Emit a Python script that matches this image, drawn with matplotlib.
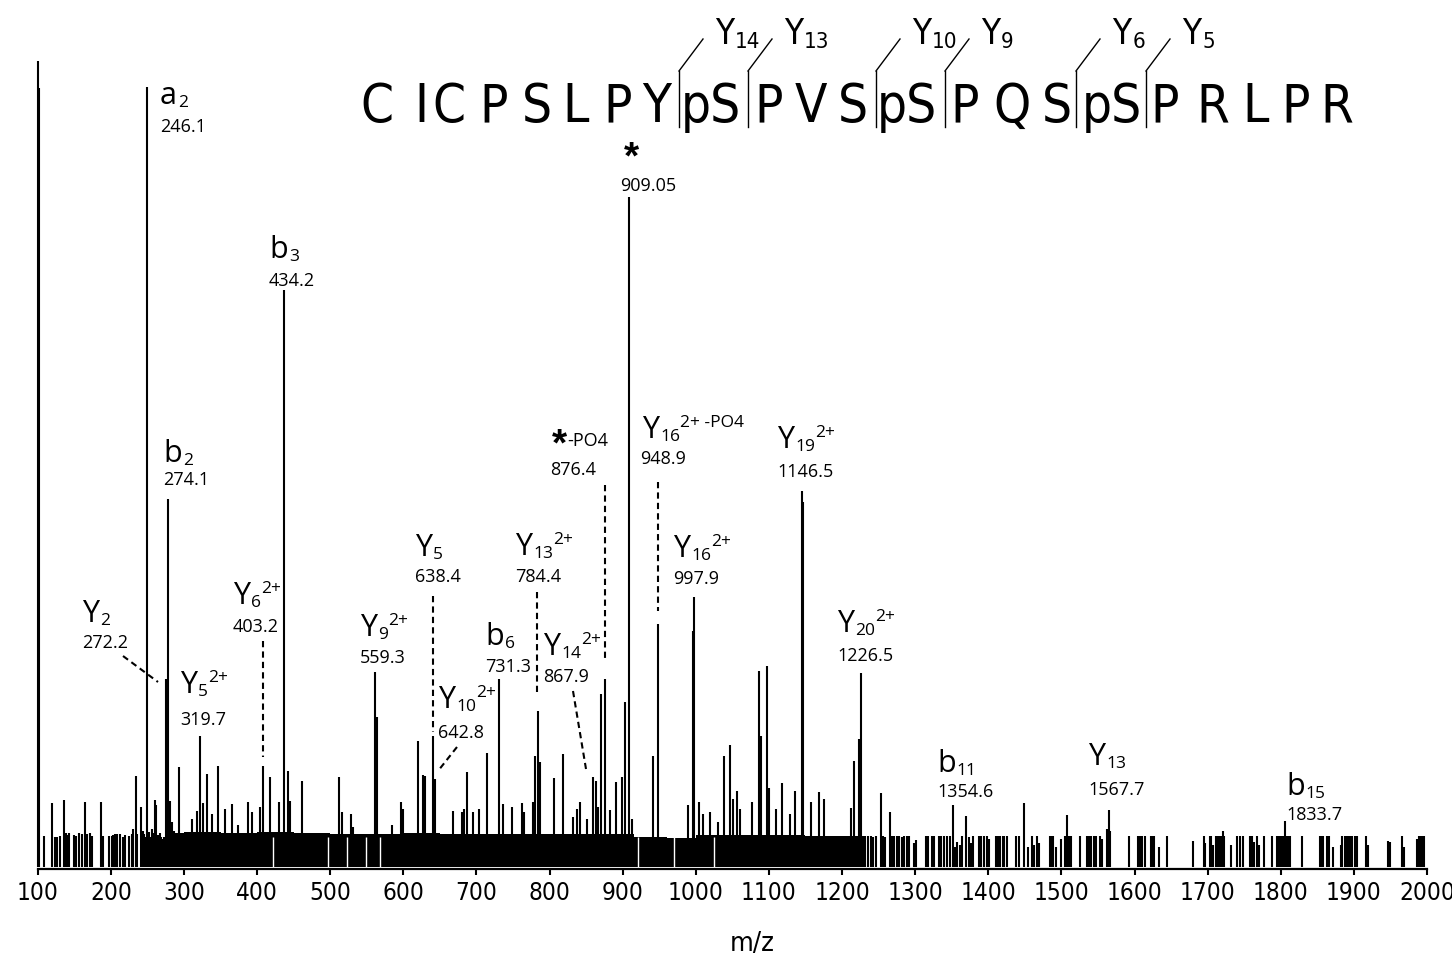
import numpy as np
import matplotlib
matplotlib.use("Agg")
import matplotlib.pyplot as plt
from matplotlib import font_manager as fm

# ---------------- data (m/z, intensity in arbitrary units) ----------------
major_mz = [100.0, 102.0, 249.5, 275.1, 277.8, 436.5, 909.3]
major_h = [806, 779, 780, 188, 368, 577, 670]

band_mz = [287, 300, 350, 400, 450, 500, 550, 600, 650, 700, 750, 800, 850, 900,
           915, 960, 1000, 1050, 1100, 1150, 1200, 1231]
band_h = [34, 35, 34, 35, 34, 33, 33, 34, 33, 33, 33, 33, 33, 33,
          30, 29, 32, 32, 32, 31, 31, 31]

gap_mz = [422, 497, 523, 549, 568, 921, 970, 1025]

minor_mz = [293.7, 310.7, 317.5, 322, 325.7, 331.2, 338.4, 347.1, 356.2, 365.4, 374, 388.1,
            392.8, 404.1, 408.6, 417.8, 430.5, 442.8, 445.6, 461.2, 512.6, 515.9, 528.6,
            531.7, 561.4, 563.8, 584.3, 596.6, 599.3, 619.8, 627.5, 629.8, 640.4, 643.5,
            667.7, 680, 683.6, 686.9, 695.9, 704.1, 714.2, 731.5, 737, 748.4, 762.1, 765.3,
            777.2, 780.3, 784.8, 787.1, 806.7, 818.2, 832.7, 837.4, 841.9, 851, 859.2, 863.8,
            866.9, 870.2, 876.1, 882.9, 891.1, 898.9, 903.4, 913, 940.8, 948.2, 990, 996,
            997.8, 1005, 1009.7, 1018.8, 1029.7, 1038.9, 1047.1, 1050.8, 1056.2, 1059.8,
            1076.8, 1086.7, 1089, 1097.3, 1100, 1110, 1117.8, 1128.2, 1136, 1144.6, 1147.3,
            1157.9, 1167.9, 1175.7, 1212.2, 1215.7, 1223.5, 1225.9, 1253.2, 1265, 1351.7,
            1370, 1449.3, 1507.7, 1564.6, 1805.4]
minor_h = [100, 48, 56, 131, 64, 93, 53, 101, 58, 63, 42, 65,
           55, 60, 101, 90, 65, 96, 66, 86, 90, 55, 53,
           40, 195, 150, 42, 65, 58, 126, 92, 91, 131, 88,
           56, 55, 58, 95, 55, 58, 114, 188, 63, 60, 64, 55,
           65, 111, 156, 105, 89, 113, 50, 58, 65, 48, 90, 86,
           60, 173, 188, 57, 85, 90, 165, 48, 111, 243, 62, 236,
           270, 65, 53, 55, 45, 111, 122, 68, 76, 58,
           65, 196, 131, 201, 79, 58, 84, 53, 76, 376, 365,
           65, 75, 68, 59, 106, 128, 194, 74, 55, 62,
           51, 64, 52, 57, 46]

left_mz = [109, 119, 124, 126, 130, 136, 139, 141, 143, 150, 153, 157, 160, 165, 168, 171,
           174, 187, 189, 198, 201, 203, 206, 209, 213, 216, 219, 225, 229, 231, 234, 236,
           241, 244, 246, 248, 252, 254, 256, 258, 260, 262, 265, 267, 268, 271, 273, 278,
           281, 283, 286]
left_h = [31, 64, 30, 30, 31, 67, 34, 32, 34, 32, 31, 34, 33, 65, 33, 34,
          31, 65, 31, 31, 31, 32, 33, 33, 33, 30, 32, 31, 33, 38, 91, 33,
          60, 36, 33, 30, 35, 30, 38, 34, 67, 62, 32, 34, 30, 28, 30, 32,
          66, 45, 36]

right_mz = [1232, 1235, 1239, 1242, 1246, 1256, 1259, 1268, 1271, 1275, 1278, 1282, 1285,
            1289, 1292, 1298, 1301, 1315, 1318, 1323, 1326, 1332, 1335, 1339, 1344, 1347,
            1355, 1357, 1361, 1364, 1374, 1376, 1379, 1387, 1390, 1394, 1398, 1401, 1410,
            1413, 1416, 1420, 1422, 1425, 1438, 1442, 1455, 1460, 1462, 1467, 1470, 1484,
            1486, 1489, 1492, 1499, 1505, 1510, 1513, 1525, 1535, 1538, 1541, 1544, 1548,
            1553, 1556, 1563, 1567, 1592, 1605, 1607, 1610, 1615, 1622, 1624, 1627, 1633,
            1645, 1680, 1695, 1697, 1703, 1705, 1707, 1712, 1714, 1715, 1717, 1719, 1721,
            1722, 1732, 1740, 1744, 1748, 1758, 1761, 1764, 1767, 1770, 1777, 1788, 1795,
            1798, 1801, 1803, 1808, 1810, 1812, 1829, 1853, 1856, 1858, 1863, 1866, 1871,
            1882, 1884, 1888, 1891, 1893, 1895, 1898, 1901, 1903, 1904, 1917, 1919, 1946,
            1949, 1966, 1968, 1986, 1989, 1991, 1993, 1996]
right_h = [31, 31, 31, 30, 31, 31, 30, 31, 31, 31, 31, 30, 31,
           31, 31, 24, 27, 31, 31, 31, 31, 31, 31, 31, 31, 31,
           20, 25, 22, 31, 30, 24, 31, 31, 31, 31, 31, 28, 31,
           31, 31, 31, 31, 31, 31, 31, 20, 31, 22, 31, 24, 31,
           31, 31, 20, 28, 31, 31, 31, 31, 31, 31, 31, 31, 31,
           31, 28, 38, 36, 31, 31, 31, 31, 31, 31, 31, 31, 20,
           31, 26, 31, 24, 31, 31, 22, 31, 31, 31, 31, 31, 36,
           31, 22, 31, 31, 31, 31, 31, 25, 31, 22, 31, 31, 31,
           31, 31, 31, 31, 31, 31, 31, 31, 31, 31, 31, 31, 20,
           22, 31, 31, 31, 31, 31, 31, 31, 31, 31, 31, 22, 26,
           25, 31, 20, 28, 31, 31, 31, 31]

xticks = list(range(100, 2001, 100))

sequence = ['C', 'I', 'C', 'P', 'S', 'L', 'P', 'Y', 'pS', 'P', 'V', 'S', 'pS', 'P', 'Q',
            'S', 'pS', 'P', 'R', 'L', 'P', 'R']
y_ions_top = ['14', '13', '10', '9', '6', '5']

# (main, sub, sup, value) for peak annotations
ann = [
    ('a', '2', '', '246.1'),
    ('b', '2', '', '274.1'),
    ('b', '3', '', '434.2'),
    ('Y', '2', '', '272.2'),
    ('Y', '5', '2+', '319.7'),
    ('Y', '6', '2+', '403.2'),
    ('Y', '9', '2+', '559.3'),
    ('Y', '5', '', '638.4'),
    ('Y', '10', '2+', '642.8'),
    ('b', '6', '', '731.3'),
    ('Y', '13', '2+', '784.4'),
    ('Y', '14', '2+', '867.9'),
    ('*', '', '-PO4', '876.4'),
    ('*', '', '', '909.05'),
    ('Y', '16', '2+ -PO4', '948.9'),
    ('Y', '16', '2+', '997.9'),
    ('Y', '19', '2+', '1146.5'),
    ('Y', '20', '2+', '1226.5'),
    ('b', '11', '', '1354.6'),
    ('Y', '13', '', '1567.7'),
    ('b', '15', '', '1833.7'),
]

# ---------------- layout ----------------
W, H = 1452, 962
DPI = 100


def has_font(name):
    try:
        fm.findfont(fm.FontProperties(family=name), fallback_to_default=False)
        return True
    except Exception:
        return False


def find_narrow():
    best = None
    for f in fm.fontManager.ttflist:
        nm = f.name
        st = str(f.stretch)
        if f.style != 'normal' or f.weight not in (400, 'normal', 'regular'):
            continue
        if 'Narrow' in nm or 'Condensed' in nm or st in ('condensed', 'semi-condensed'):
            if 'Liberation' in nm:
                score = 3
            elif 'Sans' in nm or 'Roboto' in nm:
                score = 2
            else:
                score = 1
            if best is None or score > best[0]:
                best = (score, f.fname)
    return best[1] if best else None


NARROW_FILE = find_narrow()
LBL = 'Open Sans' if has_font('Open Sans') else 'DejaVu Sans'


def nprops(size):
    if NARROW_FILE:
        return fm.FontProperties(fname=NARROW_FILE, size=size)
    return fm.FontProperties(family='Liberation Sans', size=size * 0.82)


fig = plt.figure(figsize=(W / DPI, H / DPI), dpi=DPI)
ax_left, ax_right, ax_bot, ax_top = 37.7, 1427.0, 870.0, 40.0
ax = fig.add_axes([ax_left / W, 1 - ax_bot / H, (ax_right - ax_left) / W, (ax_bot - ax_top) / H])
ax.set_xlim(100, 2000)
ax.set_ylim(-2, ax_bot - ax_top - 2)

stick_kw = dict(colors='black', linewidth=1.5, clip_on=False)
ax.fill_between(band_mz, band_h, step='post', color='black', linewidth=0)
ax.vlines(gap_mz, 0, 30, colors='white', linewidth=1.0)
ax.vlines(left_mz, 0, left_h, **stick_kw)
ax.vlines(right_mz, 0, right_h, **stick_kw)
ax.vlines(minor_mz, 0, minor_h, **stick_kw)
ax.vlines(major_mz, 0, major_h, **stick_kw)

for s in ['top', 'right', 'left']:
    ax.spines[s].set_visible(False)
ax.spines['bottom'].set_linewidth(1.6)
ax.set_yticks([])
ax.set_xticks(xticks)
ax.tick_params(axis='x', direction='out', length=4, width=1.5, pad=4)
for lab in ax.get_xticklabels():
    lab.set_fontproperties(nprops(17.5))

renderer = fig.canvas.get_renderer()


def put(px, py, s, size, family=LBL, weight='normal', ha='left', narrow=False):
    if narrow:
        return fig.text(px / W, 1 - py / H, s, fontproperties=nprops(size), ha=ha, va='baseline')
    return fig.text(px / W, 1 - py / H, s, fontsize=size, fontfamily=family,
                    fontweight=weight, ha=ha, va='baseline')


def wid(t):
    return t.get_window_extent(renderer=renderer).width


put(752, 951, 'm/z', 19.5, ha='center', narrow=True)


def label(px, py, main, sub, sup, size=22, subsize=12.5):
    if main == '*':
        t = put(px, py + 8, '*', 28, family='Liberation Sans', weight='bold')
        x = px + wid(t)
    else:
        t = put(px, py, main, size)
        x = px + wid(t) + 1
    if sub:
        ts = put(x, py + 3, sub, subsize)
        x = x + wid(ts)
    if sup:
        put(x, py - 11 if main != '*' else py - 1, sup, subsize if main != '*' else 13)


# label anchor positions (pixel: left x, label baseline y, value baseline y)
ann_pos = [
    (160, 104, 132), (163, 462, 485), (269, 258, 286), (82, 622, 648),
    (180, 693, 725), (233, 604, 632), (360, 636, 663), (415, 556, 582),
    (438, 708, 738), (485, 645, 672), (515, 555, 582), (543, 655, 682),
    (552, 447, 475), (624, 160, 191), (642, 438, 464), (673, 557, 584),
    (777, 448, 477), (837, 632, 661), (937, 772, 797), (1088, 765, 795),
    (1286, 795, 820),
]
val_dx = {12: -2, 13: -4, 14: -2}
for i, ((main, sub, sup, val), (px, ly, vy)) in enumerate(zip(ann, ann_pos)):
    label(px, ly, main, sub, sup)
    put(px + val_dx.get(i, 0), vy, val, 13)

# dashed leader lines (pixel coords)
leaders = [((123, 657), (158, 683)), ((263, 642), (263, 758)), ((433, 597), (433, 733)),
           ((457, 748), (438, 772)), ((537, 593), (537, 693)), ((573, 692), (586, 770)),
           ((605, 486), (605, 663)), ((658, 483), (658, 612))]
for (x0, y0), (x1, y1) in leaders:
    fig.add_artist(plt.Line2D([x0 / W, x1 / W], [1 - y0 / H, 1 - y1 / H], transform=fig.transFigure,
                              color='black', linewidth=1.5, linestyle=(0, (3, 2))))

# peptide sequence
seq_x = [377, 421, 449, 494, 537, 576, 618, 657, 711, 769, 811, 853, 907, 965, 1012, 1057,
         1112, 1165, 1213, 1256, 1296, 1337]
for r, x in zip(sequence, seq_x):
    put(x, 122, r, 38, ha='center', narrow=True)
bar_x = [679, 748, 876, 945, 1076, 1146]
for bx, yn in zip(bar_x, y_ions_top):
    fig.add_artist(plt.Line2D([bx / W, bx / W], [1 - 72 / H, 1 - 128 / H], transform=fig.transFigure,
                              color='black', linewidth=1.0))
    fig.add_artist(plt.Line2D([bx / W, (bx + 24) / W], [1 - 72 / H, 1 - 40 / H], transform=fig.transFigure,
                              color='black', linewidth=1.0))
    t = put(bx + 36, 44, 'Y', 25, narrow=True)
    put(bx + 36 + wid(t) + 1, 48, yn, 16, narrow=True)

fig.savefig('out.png', dpi=DPI)
